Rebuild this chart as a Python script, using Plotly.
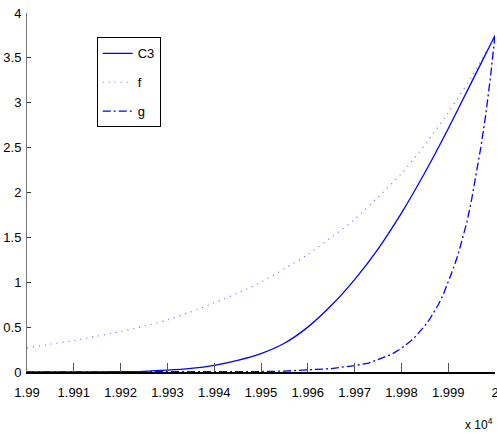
import plotly.graph_objects as go

# Data (x in original units; axis labels shown as x 10^4)
c3_x = [19900, 19910, 19920, 19925, 19930, 19935, 19940, 19945, 19950, 19955,
        19960, 19965, 19970, 19975, 19980, 19985, 19990, 19995, 20000]
c3_y = [0.0, 0.0005, 0.003, 0.008, 0.02, 0.04, 0.075, 0.13, 0.205, 0.32,
        0.5, 0.74, 1.03, 1.37, 1.77, 2.22, 2.71, 3.23, 3.75]

f_x = [19900, 19905, 19910, 19915, 19920, 19925, 19930, 19935, 19940, 19945,
       19950, 19955, 19960, 19965, 19970, 19975, 19980, 19985, 19990, 19995, 20000]
f_y = [0.27, 0.31, 0.35, 0.40, 0.45, 0.51, 0.58, 0.67, 0.77, 0.88,
       1.0, 1.15, 1.31, 1.50, 1.70, 1.95, 2.21, 2.53, 2.89, 3.29, 3.75]

g_x = [19900, 19940, 19945, 19950, 19955, 19960, 19965, 19970, 19973, 19975,
       19978, 19980, 19981, 19982, 19983, 19984, 19985, 19986, 19987, 19988,
       19989, 19990, 19991, 19992, 19993, 19994, 19995, 19996, 19997, 19998,
       19999, 20000]
g_y = [0.0, 0.0, 0.002, 0.005, 0.01, 0.02, 0.038, 0.072, 0.1, 0.138,
       0.2, 0.264, 0.30, 0.345, 0.395, 0.45, 0.515, 0.585, 0.665, 0.76,
       0.87, 1.0, 1.14, 1.29, 1.47, 1.67, 1.92, 2.2, 2.51, 2.86,
       3.27, 3.75]

x_ticks = [19900, 19910, 19920, 19930, 19940, 19950, 19960, 19970, 19980, 19990, 20000]
x_tick_labels = ["1.99", "1.991", "1.992", "1.993", "1.994", "1.995",
                 "1.996", "1.997", "1.998", "1.999", "2"]
y_ticks = [0, 0.5, 1, 1.5, 2, 2.5, 3, 3.5, 4]
y_tick_labels = ["0", "0.5", "1", "1.5", "2", "2.5", "3", "3.5", "4"]

FONT = "Liberation Sans Narrow, Liberation Sans, Arial, sans-serif"

fig = go.Figure()
fig.add_trace(go.Scatter(x=c3_x, y=c3_y, mode="lines", name="C3", legendgroup="a",
                         line=dict(color="#0000ff", width=1.3, shape="spline", smoothing=0.8)))
fig.add_trace(go.Scatter(x=f_x, y=f_y, mode="lines", name="f", legendgroup="b",
                         line=dict(color="#6a6aff", width=1.2, dash="1px,5px",
                                   shape="spline", smoothing=0.8)))
fig.add_trace(go.Scatter(x=g_x, y=g_y, mode="lines", name="g", legendgroup="c",
                         line=dict(color="#0000ff", width=1.3, dash="8px,3px,2px,3px")))

fig.update_layout(
    width=497, height=436,
    margin=dict(l=27, r=2, t=13, b=64, autoexpand=False),
    paper_bgcolor="white", plot_bgcolor="white",
    font=dict(family=FONT, size=13, color="black"),
    showlegend=True,
    legend=dict(x=0.149, y=0.932, xanchor="left", yanchor="top",
                bgcolor="white", bordercolor="black", borderwidth=1,
                font=dict(family=FONT, size=13, color="black"),
                tracegroupgap=9, itemwidth=30),
    annotations=[dict(text="x 10<sup>4</sup>", xref="paper", yref="paper",
                      x=1.0, y=-0.145, xanchor="right", yanchor="middle",
                      showarrow=False, font=dict(family=FONT, size=12, color="black"))],
)
fig.update_xaxes(range=[19900, 20000], tickmode="array", tickvals=x_ticks,
                 ticktext=x_tick_labels, ticks="inside", ticklen=9, tickwidth=1,
                 tickcolor="#555555", showline=True, linecolor="black", linewidth=1.5,
                 showgrid=False, zeroline=False, mirror=False, ticklabelstandoff=8,
                 automargin=False, ticklabeloverflow="allow",
                 tickfont=dict(family=FONT, size=13, color="black"))
fig.update_yaxes(range=[0, 4], tickmode="array", tickvals=y_ticks,
                 ticktext=y_tick_labels, ticks="inside", ticklen=4, tickwidth=1,
                 tickcolor="#333333", showline=True, linecolor="#777777", linewidth=1,
                 showgrid=False, zeroline=False, mirror=False, ticklabelstandoff=2,
                 automargin=False,
                 tickfont=dict(family=FONT, size=13, color="black"))

fig.write_html("out.html",
               config={"displayModeBar": False},
               post_script="document.body.style.margin='0px';"
                           "document.body.style.overflow='hidden';")
